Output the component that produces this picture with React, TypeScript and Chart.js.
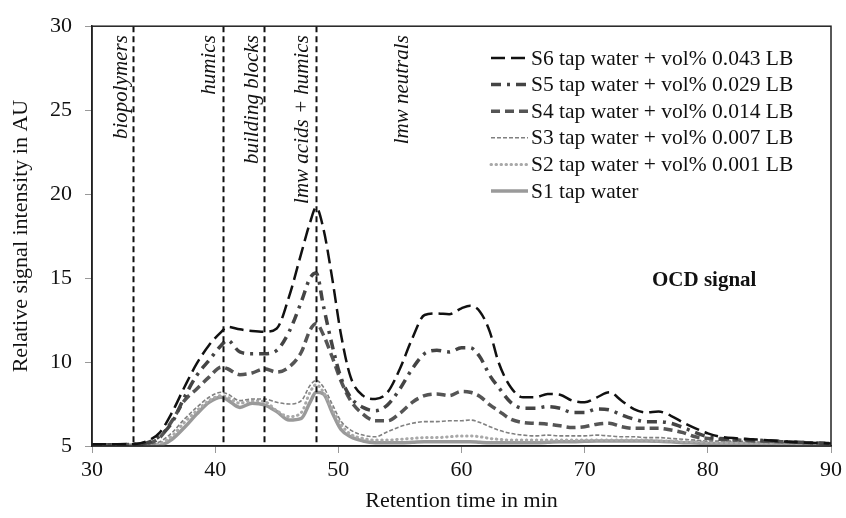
import React, { useEffect, useRef } from "react";
import { Chart, registerables } from "chart.js";

Chart.register(...registerables);

const times = [30, 32, 33.5, 34.5, 35.5, 36.5, 37.5, 38.5, 39.5, 40.5, 41, 42, 43, 44, 45, 46, 47, 47.7, 48.2, 48.8, 49.5, 50.2, 51, 52, 53, 54, 55, 56, 57, 58, 59, 60, 60.7, 61.5, 62.3, 63, 64, 65, 66, 67, 68, 69, 70, 71, 72, 73, 74, 75, 76, 77, 78, 79, 80, 81, 82.5, 84, 86, 88, 90];

const s6 = [5.1, 5.1, 5.12, 5.3, 5.8, 7.0, 8.5, 9.9, 11.0, 11.8, 12.1, 11.95, 11.85, 11.8, 12.0, 13.9, 16.5, 18.3, 19.2, 17.9, 15.0, 11.7, 9.1, 8.0, 7.8, 8.2, 9.6, 11.4, 12.8, 12.9, 12.85, 13.2, 13.35, 13.0, 11.8, 10.0, 8.5, 7.9, 7.9, 8.1, 8.05, 7.7, 7.6, 7.9, 8.2, 7.7, 7.2, 7.0, 7.05, 6.8, 6.4, 6.05, 5.75, 5.55, 5.45, 5.38, 5.28, 5.2, 5.15];
const s5 = [5.08, 5.08, 5.1, 5.2, 5.6, 6.4, 7.9, 9.2, 10.1, 11.0, 11.3, 10.6, 10.5, 10.5, 10.7, 11.8, 13.6, 15.0, 15.3, 13.3, 11.0, 9.1, 7.9, 7.3, 7.1, 7.45, 8.4, 9.6, 10.5, 10.7, 10.6, 10.85, 10.85, 10.3, 9.2, 8.5, 7.6, 7.25, 7.25, 7.35, 7.25, 7.0, 7.0, 7.2, 7.15, 6.85, 6.6, 6.45, 6.45, 6.35, 6.1, 5.8, 5.55, 5.45, 5.4, 5.35, 5.27, 5.2, 5.15];
const s4 = [5.08, 5.08, 5.1, 5.15, 5.5, 6.5, 7.7, 8.4, 9.1, 9.7, 9.6, 9.25, 9.35, 9.6, 9.4, 9.7, 10.6, 11.9, 12.3, 11.6, 10.3, 8.9, 7.7, 6.9, 6.5, 6.5, 6.95, 7.6, 8.0, 8.1, 8.0, 8.25, 8.2, 7.95, 7.45, 7.1, 6.6, 6.4, 6.35, 6.3, 6.2, 6.1, 6.15, 6.3, 6.35, 6.15, 6.05, 6.05, 6.05, 5.95, 5.8, 5.55, 5.45, 5.4, 5.35, 5.3, 5.25, 5.2, 5.15];
const s3 = [5.08, 5.08, 5.08, 5.1, 5.25, 5.8, 6.6, 7.3, 7.9, 8.2, 8.1, 7.7, 7.8, 7.8, 7.6, 7.5, 7.7, 8.6, 8.9, 8.5, 7.5, 6.5, 5.95, 5.65, 5.55, 5.85, 6.15, 6.35, 6.45, 6.45, 6.5, 6.5, 6.55, 6.4, 6.15, 5.95, 5.75, 5.65, 5.6, 5.65, 5.6, 5.6, 5.6, 5.65, 5.6, 5.55, 5.55, 5.5, 5.5, 5.45, 5.4, 5.35, 5.3, 5.3, 5.28, 5.25, 5.2, 5.17, 5.15];
const s2 = [5.08, 5.08, 5.08, 5.08, 5.15, 5.6, 6.4, 7.1, 7.7, 8.0, 7.9, 7.55, 7.7, 7.65, 7.1, 6.75, 7.0, 8.2, 8.65, 8.2, 7.2, 6.3, 5.7, 5.45, 5.35, 5.35, 5.4, 5.45, 5.5, 5.5, 5.55, 5.6, 5.6, 5.55, 5.45, 5.4, 5.35, 5.35, 5.35, 5.35, 5.35, 5.35, 5.35, 5.35, 5.35, 5.35, 5.35, 5.35, 5.3, 5.3, 5.25, 5.25, 5.22, 5.2, 5.2, 5.18, 5.17, 5.15, 5.15];
const s1 = [5.05, 5.05, 5.05, 5.05, 5.05, 5.4, 6.1, 6.9, 7.6, 7.9, 7.75, 7.3, 7.55, 7.45, 7.05, 6.55, 6.65, 7.6, 8.2, 8.1, 7.0, 6.0, 5.55, 5.3, 5.2, 5.2, 5.2, 5.22, 5.25, 5.25, 5.25, 5.25, 5.25, 5.22, 5.2, 5.2, 5.2, 5.2, 5.2, 5.22, 5.25, 5.25, 5.28, 5.3, 5.3, 5.3, 5.3, 5.3, 5.28, 5.25, 5.2, 5.18, 5.15, 5.15, 5.15, 5.15, 5.12, 5.1, 5.1];

const seriesLabels = [
  "S6 tap water + vol% 0.043 LB",
  "S5 tap water + vol% 0.029 LB",
  "S4 tap water + vol% 0.014 LB",
  "S3 tap water + vol% 0.007 LB",
  "S2 tap water + vol% 0.001 LB",
  "S1 tap water",
];
const seriesValues = [s6, s5, s4, s3, s2, s1];

const boundaryTimes = [33.34, 40.63, 43.93, 48.19];
const regionLabels = ["biopolymers", "humics", "building blocks", "lmw acids + humics", "lmw neutrals"];
const regionLabelTimes = [32.43, 39.55, 43.04, 47.09, 55.18];

const xTitle = "Retention time in min";
const yTitle = "Relative signal intensity in AU";
const annotationText = "OCD signal";

const styles = [
  { color: "#111111", width: 2.5, dash: [14, 6], cap: "butt" },
  { color: "#444444", width: 3.5, dash: [10, 6, 3, 6], cap: "butt" },
  { color: "#555555", width: 3.5, dash: [9, 5], cap: "butt" },
  { color: "#808080", width: 1.6, dash: [4, 2], cap: "butt" },
  { color: "#a8a8a8", width: 3, dash: [0.5, 4.5], cap: "round" },
  { color: "#9a9a9a", width: 3.5, dash: [], cap: "butt" },
];

const SERIF = "'Liberation Serif', 'Times New Roman', serif";

const overlayPlugin = {
  id: "overlay",
  afterDatasetsDraw(chart: any) {
    const { ctx, chartArea, scales } = chart;
    const xs = scales.x;
    ctx.save();
    // boundary lines
    ctx.strokeStyle = "#111";
    ctx.lineWidth = 2;
    ctx.setLineDash([6, 4]);
    boundaryTimes.forEach((t) => {
      const px = Math.round(xs.getPixelForValue(t)) + 0.5;
      ctx.beginPath();
      ctx.moveTo(px, chartArea.top);
      ctx.lineTo(px, chartArea.bottom);
      ctx.stroke();
    });
    ctx.setLineDash([]);
    // region labels
    ctx.fillStyle = "#111";
    ctx.font = `italic 21px ${SERIF}`;
    ctx.textAlign = "right";
    ctx.textBaseline = "middle";
    regionLabels.forEach((lab, i) => {
      const px = xs.getPixelForValue(regionLabelTimes[i]);
      ctx.save();
      ctx.translate(px, chartArea.top + 9);
      ctx.rotate(-Math.PI / 2);
      ctx.fillText(lab, 0, 0);
      ctx.restore();
    });
    // frame
    ctx.strokeStyle = "#222";
    ctx.lineWidth = 1.5;
    ctx.strokeRect(chartArea.left, chartArea.top, chartArea.right - chartArea.left, chartArea.bottom - chartArea.top);
    // legend
    const lx0 = 491;
    const lx1 = 528;
    const ly0 = 58;
    const lstep = 26.6;
    ctx.font = `21.5px ${SERIF}`;
    ctx.textAlign = "left";
    ctx.textBaseline = "middle";
    seriesLabels.forEach((lab, i) => {
      const st = styles[i];
      const y = ly0 + i * lstep;
      ctx.save();
      ctx.strokeStyle = st.color;
      ctx.lineWidth = st.width;
      ctx.lineCap = st.cap as CanvasLineCap;
      ctx.setLineDash(st.dash);
      ctx.beginPath();
      ctx.moveTo(lx0, y);
      ctx.lineTo(lx1, y);
      ctx.stroke();
      ctx.restore();
      ctx.fillStyle = "#111";
      ctx.fillText(lab, lx1 + 3, y + 1);
    });
    // annotation
    ctx.font = `bold 21px ${SERIF}`;
    ctx.textAlign = "left";
    ctx.fillText(annotationText, 652, 281);
    ctx.restore();
  },
};

export default function App() {
  const canvasRef = useRef<HTMLCanvasElement | null>(null);

  useEffect(() => {
    const canvas = canvasRef.current;
    if (!canvas) return;
    const datasets = seriesValues.map((vals, i) => ({
      label: seriesLabels[i],
      data: vals.map((v, j) => ({ x: times[j], y: v })),
      borderColor: styles[i].color,
      borderWidth: styles[i].width,
      borderDash: styles[i].dash,
      borderCapStyle: styles[i].cap,
      pointRadius: 0,
      fill: false,
      cubicInterpolationMode: "monotone",
    }));
    const chart = new Chart(canvas, {
      type: "line",
      data: { datasets } as any,
      options: {
        animation: false,
        responsive: true,
        maintainAspectRatio: false,
        layout: { padding: { top: 24, right: 13, left: 0, bottom: 0 } },
        plugins: {
          legend: { display: false },
          tooltip: { enabled: false },
        },
        scales: {
          x: {
            type: "linear",
            min: 30,
            max: 90,
            ticks: {
              stepSize: 10,
              color: "#111",
              font: { family: SERIF, size: 22 },
              padding: 4,
              maxRotation: 0,
            },
            grid: { drawOnChartArea: false, drawTicks: true, tickLength: 7, color: "#999" },
            border: { display: true, color: "#222", width: 1.5 },
            title: {
              display: true,
              text: xTitle,
              color: "#111",
              font: { family: SERIF, size: 22 },
              padding: { top: 0, bottom: 4 },
            },
            afterFit: (scale: any) => {
              scale.height = 72;
            },
          },
          y: {
            type: "linear",
            min: 5,
            max: 30,
            ticks: {
              stepSize: 5,
              color: "#111",
              font: { family: SERIF, size: 22 },
              padding: 13,
            },
            grid: { drawOnChartArea: false, drawTicks: true, tickLength: 7, color: "#999" },
            border: { display: true, color: "#222", width: 1.5 },
            title: {
              display: true,
              text: yTitle,
              color: "#111",
              font: { family: SERIF, size: 22 },
              padding: { top: 8, bottom: 0 },
            },
            afterFit: (scale: any) => {
              scale.width = 92;
            },
          },
        },
      } as any,
      plugins: [overlayPlugin],
    });
    return () => chart.destroy();
  }, []);

  return (
    <div style={{ position: "absolute", left: 0, top: 0, width: 846, height: 518, background: "#fff" }}>
      <canvas ref={canvasRef} />
    </div>
  );
}
